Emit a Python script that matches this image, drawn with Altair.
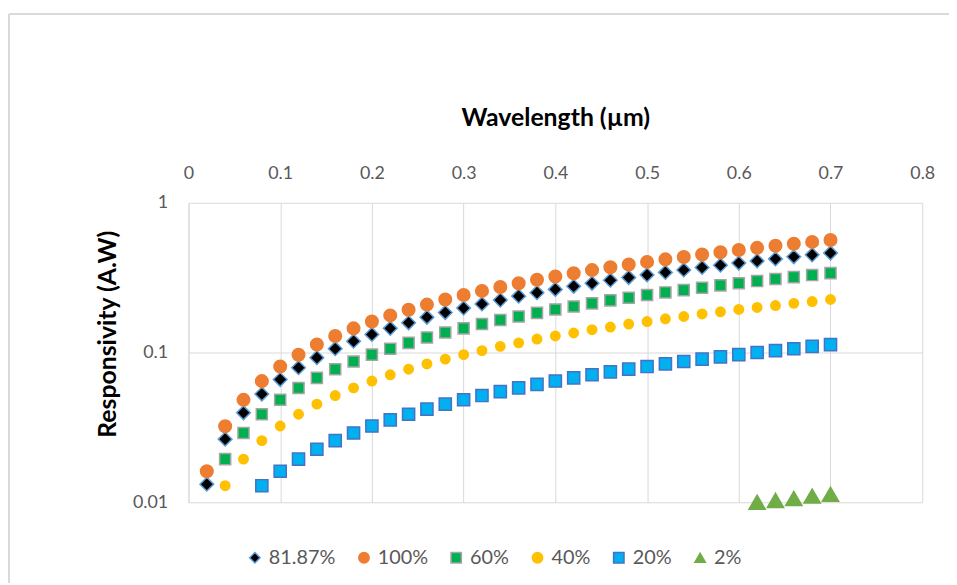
import altair as alt
import pandas as pd

wavelength = [0.02, 0.04, 0.06, 0.08, 0.10, 0.12, 0.14, 0.16, 0.18, 0.20,
              0.22, 0.24, 0.26, 0.28, 0.30, 0.32, 0.34, 0.36, 0.38, 0.40,
              0.42, 0.44, 0.46, 0.48, 0.50, 0.52, 0.54, 0.56, 0.58, 0.60,
              0.62, 0.64, 0.66, 0.68, 0.70]

r_8187 = [0.0132, 0.0264, 0.0396, 0.0528, 0.066, 0.0792, 0.0924, 0.106, 0.119, 0.132,
          0.145, 0.158, 0.172, 0.185, 0.198, 0.211, 0.224, 0.238, 0.251, 0.264,
          0.277, 0.290, 0.304, 0.317, 0.330, 0.343, 0.356, 0.370, 0.383, 0.396,
          0.409, 0.422, 0.436, 0.449, 0.462]

r_100 = [0.0161, 0.0322, 0.0483, 0.0644, 0.0806, 0.0967, 0.113, 0.129, 0.145, 0.161,
         0.177, 0.193, 0.209, 0.226, 0.242, 0.258, 0.274, 0.290, 0.306, 0.322,
         0.338, 0.355, 0.371, 0.387, 0.403, 0.419, 0.435, 0.451, 0.467, 0.484,
         0.500, 0.516, 0.532, 0.548, 0.564]

r_60 = [None, 0.0194, 0.029, 0.0387, 0.0484, 0.058, 0.0677, 0.0774, 0.0871, 0.0968,
        0.106, 0.116, 0.126, 0.136, 0.145, 0.155, 0.165, 0.174, 0.184, 0.194,
        0.203, 0.213, 0.223, 0.232, 0.242, 0.252, 0.261, 0.271, 0.281, 0.290,
        0.300, 0.310, 0.319, 0.329, 0.339]

r_40 = [None, 0.0129, 0.0194, 0.0258, 0.0323, 0.0387, 0.0452, 0.0516, 0.0581, 0.0645,
        0.071, 0.0774, 0.0839, 0.0903, 0.0968, 0.103, 0.110, 0.116, 0.123, 0.129,
        0.135, 0.142, 0.148, 0.155, 0.161, 0.168, 0.174, 0.181, 0.187, 0.194,
        0.200, 0.206, 0.213, 0.219, 0.226]

r_20 = [None, None, None, 0.0129, 0.0161, 0.0194, 0.0226, 0.0258, 0.029, 0.0323,
        0.0355, 0.0387, 0.0419, 0.0452, 0.0484, 0.0516, 0.0548, 0.0581, 0.0613, 0.0645,
        0.0677, 0.071, 0.0742, 0.0774, 0.0806, 0.0839, 0.0871, 0.0903, 0.0935, 0.0968,
        0.100, 0.103, 0.106, 0.110, 0.113]

r_2 = [None] * 30 + [0.0100, 0.0103, 0.0106, 0.0110, 0.0113]

series_names = ["81.87%", "100%", "60%", "40%", "20%", "2%"]
series_values = [r_8187, r_100, r_60, r_40, r_20, r_2]
fills = ["#000000", "#ED7D31", "#00B050", "#FFC000", "#00B0F0", "#70AD47"]
strokes = ["#5B9BD5", "#ED7D31", "#A5A5A5", "#FFC000", "#4472C4", "#70AD47"]
shapes = ["diamond", "circle", "square", "circle", "square", "triangle-up"]
marker_sizes = [190, 160, 125, 90, 150, 270]

rows = []
for name, vals in zip(series_names, series_values):
    for w, v in zip(wavelength, vals):
        if v is not None:
            rows.append({"wavelength": w, "responsivity": v, "series": name})
df = pd.DataFrame(rows)

font = "Lato"

leg = alt.Legend(orient="none", legendX=57, legendY=348, direction="horizontal",
                 title=None)

x_enc = alt.X("wavelength:Q",
              scale=alt.Scale(domain=[0, 0.8], nice=False, zero=False),
              axis=alt.Axis(orient="top", title="Wavelength (µm)",
                            values=[0, 0.1, 0.2, 0.3, 0.4, 0.5, 0.6, 0.7, 0.8],
                            format="~g", labelFontSize=18, labelColor="#595959",
                            labelPadding=21, labelFlush=False, ticks=False, domain=False,
                            gridColor="#D9D9D9", titleFontSize=25, titleFontWeight="bold",
                            titleColor="#000000", titlePadding=34, labelFont=font,
                            titleFont=font))
y_enc = alt.Y("responsivity:Q",
              scale=alt.Scale(type="log", domain=[0.01, 1], nice=False),
              axis=alt.Axis(title="Responsivity (A.W)", values=[0.01, 0.1, 1],
                            format="~g", labelFontSize=18, labelColor="#595959",
                            labelPadding=21, labelFlush=False, ticks=False,
                            domainColor="#D9D9D9",
                            gridColor="#D9D9D9", titleFontSize=25, titleFontWeight="bold",
                            titleColor="#000000", titleX=-82, titleY=132,
                            titleAlign="center", titleBaseline="middle",
                            labelFont=font, titleFont=font))

layers = []
for name, size in zip(series_names, marker_sizes):
    layer = alt.Chart(df).transform_filter(
        alt.datum.series == name
    ).mark_point(filled=True, strokeWidth=1.5, opacity=1, size=size).encode(
        x=x_enc,
        y=y_enc,
        fill=alt.Fill("series:N", scale=alt.Scale(domain=series_names, range=fills), legend=leg),
        stroke=alt.Stroke("series:N", scale=alt.Scale(domain=series_names, range=strokes), legend=leg),
        shape=alt.Shape("series:N", scale=alt.Scale(domain=series_names, range=shapes), legend=leg),
    )
    layers.append(layer)

top_border = alt.Chart(df).mark_rule(color="#D9D9D9", strokeWidth=1).encode(
    x=alt.value(-181), x2=alt.value(767), y=alt.value(-190))
left_border = alt.Chart(df).mark_rule(color="#D9D9D9", strokeWidth=1).encode(
    x=alt.value(-181), y=alt.value(-190), y2=alt.value(383))

chart = alt.layer(top_border, left_border, *layers).properties(
    width=740, height=302,
    autosize=alt.AutoSizeParams(type="none"),
    padding={"left": 182, "top": 194, "right": 27, "bottom": 81},
).configure(background="white").configure_view(stroke=None).configure_legend(
    labelFontSize=20, labelColor="#595959", labelFont=font, symbolSize=110,
    columnPadding=18, labelOffset=4, symbolStrokeWidth=1.5, padding=0,
    symbolOpacity=1,
)

chart.save("out.html", embed_options={"renderer": "svg", "actions": False})
